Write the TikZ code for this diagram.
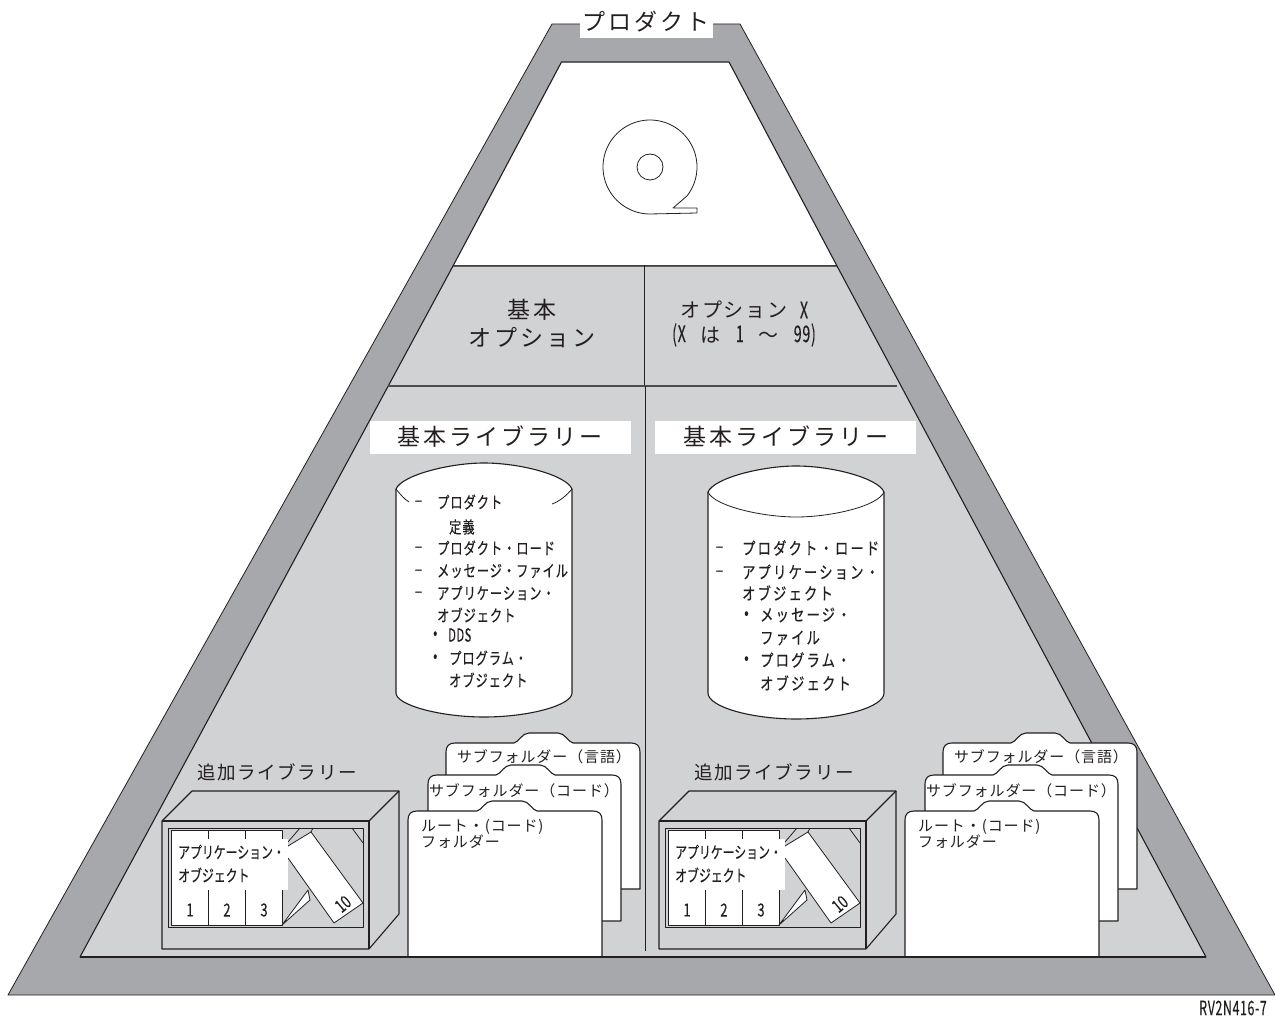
\documentclass[tikz,border=0pt]{standalone}
\usepackage{fontspec}
\setmainfont{Noto Sans CJK JP}
\newfontfamily\jpW[LetterSpace=13]{Noto Sans CJK JP}
\newfontfamily\jpM[LetterSpace=9]{Noto Sans CJK JP}
\newfontfamily\jpS[LetterSpace=6]{Noto Sans CJK JP}
\newfontfamily\jpA[FakeStretch=.74,FakeBold=.3,LetterSpace=6]{Noto Sans CJK JP}
\newfontfamily\jpB[FakeStretch=.78,FakeBold=.3,LetterSpace=13]{Noto Sans CJK JP}
\newfontfamily\jpC[FakeStretch=.72,FakeBold=.3]{Noto Sans CJK JP}
\newfontfamily\jpN[FakeStretch=.62,FakeBold=.2,LetterSpace=3]{Noto Sans CJK JP}
\newfontfamily\jpD[FakeBold=1.2]{Noto Sans CJK JP}
\definecolor{darkband}{HTML}{A7A8AB}
\definecolor{lightband}{HTML}{D1D2D4}
\definecolor{ink}{HTML}{231F20}
\tikzset{
  ln/.style={draw=ink,line width=1.1pt,line join=round},
  thin ln/.style={draw=ink,line width=.8pt,line join=round},
  txt/.style={inner sep=0pt,text=ink},
  big/.style={txt,font=\fontsize{23}{23}\selectfont\jpW},
  opt/.style={txt,font=\fontsize{20}{20}\selectfont\jpM},
  mid/.style={txt,font=\fontsize{18.5}{18.5}\selectfont\jpM},
  fold/.style={txt,font=\fontsize{15}{15}\selectfont\jpS},
  listA/.style={txt,anchor=west,font=\fontsize{16.5}{16.5}\selectfont\jpA},
  listB/.style={txt,anchor=west,font=\fontsize{17}{17}\selectfont\jpB},
  lab/.style={txt,anchor=west,font=\fontsize{16.5}{16.5}\selectfont\jpC},
  num/.style={txt,font=\fontsize{18}{18}\selectfont\jpC},
  narrow/.style={txt,font=\fontsize{23}{23}\selectfont\jpN},
  dashmark/.style={txt,font=\fontsize{14}{14}\selectfont\jpD},
}
\newcommand{\folderpath}[7]{
  \path[ln,fill=white] (#1,#7) -- (#1,{#3+9}) .. controls (#1,{#3+3}) and ({#1+3},#3) .. ({#1+9},#3)
    -- (#4,#3) .. controls ({#4+5},{#3-1}) and ({#4+8},#6) .. ({#4+15},#6)
    -- ({#5-15},#6) .. controls ({#5-8},#6) and ({#5-5},{#3-1}) .. (#5,#3)
    -- ({#2-9},#3) .. controls ({#2-3},#3) and (#2,{#3+3}) .. (#2,{#3+9})
    -- (#2,#7) -- cycle;
}
\newcommand{\libgroup}[2]{
  \begin{scope}[xshift=#1pt]
    \node[mid] (addlib#2) at (277,772) {追加ライブラリー};
    % box
    \path[ln,fill=lightband] (162,821) -- (192,791) -- (399,791) -- (399,914) -- (369,949) -- (162,949) -- cycle;
    \draw[ln] (162,821) -- (369,821) -- (369,949);
    \draw[ln] (369,821) -- (399,791);
    \path[thin ln] (168,828) rectangle (363,927);
    % books
    \path[thin ln,fill=white] (171,830) rectangle (282,925);
    \draw[thin ln] (208,830) -- (208,925) (245,830) -- (245,925);
    \draw[thin ln] (288,842) -- (300,828) (310,834) -- (313,828) (352,828) -- (363,843);
    \path[thin ln,fill=white] (282,925) -- (308,890) -- (310,900) -- cycle;
    \path[thin ln,fill=white] (288,846) -- (311,832) -- (363,903) -- (334,923) -- (288,858);
    \fill[white] (172,839) rectangle (288,890);
    \node[lab] (app#2) at (178,852) {アプリケーション・};
    \node[lab] (obj#2) at (178,875) {オブジェクト};
    \node[num] (n1#2) at (190,910) {1};
    \node[num] (n2#2) at (227,910) {2};
    \node[num] (n3#2) at (264,910) {3};
    \node[num,rotate=40] (n10#2) at (343,904) {10};
    % folders
    \folderpath{446}{640}{743}{514}{573}{733}{889}
    \folderpath{428}{621}{775}{496}{555}{765}{921}
    \folderpath{408}{602}{811}{477}{537}{801}{957}
    \node[fold] (f3#2) at (544,757) {サブフォルダー（言語）};
    \node[fold] (f2#2) at (524,791) {サブフォルダー（コード）};
    \node[fold,anchor=west] (f1a#2) at (421,827) {ルート・(コード)};
    \node[fold,anchor=west] (f1b#2) at (421,842) {フォルダー};
  \end{scope}
}
\begin{document}
\begin{tikzpicture}[x=1pt,y=-1pt]
\useasboundingbox (0,0) rectangle (1275,1016);
\fill[white] (0,0) rectangle (1275,1016);
% bands
\path[thin ln,fill=darkband] (552,24) -- (740,24) -- (1275,995) -- (8,995) -- cycle;
\path[ln,fill=white] (561.5,62) -- (729,62) -- (837,266) -- (453,266) -- cycle;
\path[ln,fill=lightband] (453,266) -- (837,266) -- (1206,957) -- (80,957) -- cycle;
\fill[white] (580,10) rectangle (713,38);
\node[big] (product) at (646,22) {プロダクト};
% tape
\draw[thin ln] (650,167) circle[radius=13];
\draw[thin ln] plot[domain=90:398,samples=90,variable=\t] ({650+47*cos(\t)},{167+47*sin(\t)})
  -- (673,208) -- (697,208) -- (697,213) -- (650,214);
% dividers
\draw[thin ln] (644,265) -- (644,386);
\draw[draw=ink!80,line width=1.1pt] (388,386) -- (897,386);
\draw[thin ln] (645,386) -- (645,951);
% option titles
\node[big] (basicA) at (532,310) {基本};
\node[big] (basicB) at (532,338) {オプション};
\node[opt] (optA) at (734,310) {オプション};
\node[narrow] (optX) at (804,310) {X};
\node[narrow] (optB) at (744,335) {(X\hspace{15pt}{\fontsize{20}{20}\selectfont\jpM は}\hspace{15pt}1\hspace{15pt}{\fontsize{20}{20}\selectfont\jpM 〜}\hspace{15pt}99)};
% library titles
\node[fill=white,minimum width=261pt,minimum height=33pt,inner sep=0pt] (libL) at (500.5,437.5) {};
\node[fill=white,minimum width=261pt,minimum height=33pt,inner sep=0pt] (libR) at (785.5,437.5) {};
\node[big] (libLt) at (500,437) {基本ライブラリー};
\node[big] (libRt) at (786,437) {基本ライブラリー};
% left cylinder
\path[ln,fill=white] (396,489) .. controls (402,475) and (450,463) .. (484,463) .. controls (520,463) and (566,475) .. (572,489)
  -- (572,693) .. controls (572,705) and (530,717) .. (484,717) .. controls (440,717) and (396,705) .. (396,693) -- cycle;
\draw[thin ln] (396,489) .. controls (400,494) and (404,499) .. (409,502);
\draw[thin ln] (572,489) .. controls (566,496) and (560,501) .. (552,504);
% right cylinder
\path[ln,fill=white] (708,492) .. controls (714,478) and (762,466) .. (796,466) .. controls (832,466) and (878,478) .. (884,492)
  -- (884,693) .. controls (884,707) and (842,719) .. (796,719) .. controls (752,719) and (708,707) .. (708,693) -- cycle;
\draw[thin ln] (708,492) .. controls (714,506) and (762,517) .. (796,517) .. controls (832,517) and (878,506) .. (884,492);
% left list
\foreach \nm/\yy in {a/503,b/549,c/572,d/594}{\node[dashmark] (dash\nm) at (418.5,\yy) {–};}
\node[listA] (l1) at (437,502) {プロダクト};
\node[listA] (l2) at (449,527) {定義};
\node[listA] (l3) at (437,548) {プロダクト・ロード};
\node[listA] (l4) at (437,571) {メッセージ・ファイル};
\node[listA] (l5) at (437,593) {アプリケーション・};
\node[listA] (l6) at (437,615) {オブジェクト};
\node[listA] (l7) at (433,635) {•};
\node[txt,anchor=west,font=\fontsize{18}{18}\selectfont\jpN] (l7b) at (448,635) {DDS};
\node[listA] (l8) at (433,658) {•};
\node[listA] (l8b) at (449,658) {プログラム・};
\node[listA] (l9) at (449,680) {オブジェクト};
% right list
\foreach \nm/\yy in {a/549,b/573}{\node[dashmark] (rdash\nm) at (719.5,\yy) {–};}
\node[listB] (r1) at (742,548) {プロダクト・ロード};
\node[listB] (r2) at (742,572) {アプリケーション・};
\node[listB] (r3) at (742,593) {オブジェクト};
\node[listB] (r4) at (744,615) {•};
\node[listB] (r4b) at (760,615) {メッセージ・};
\node[listB] (r5) at (760,638) {ファイル};
\node[listB] (r6) at (744,660) {•};
\node[listB] (r6b) at (760,660) {プログラム・};
\node[listB] (r7) at (760,683) {オブジェクト};
% lower groups
\libgroup{0}{L}
\libgroup{497}{R}
% inner bottom edge over folders
\draw[ln] (80,957) -- (1206,957);
\node[txt,font=\fontsize{20}{20}\selectfont\jpN] (ref) at (1233,1008) {RV2N416-7};
\end{tikzpicture}
\end{document}
